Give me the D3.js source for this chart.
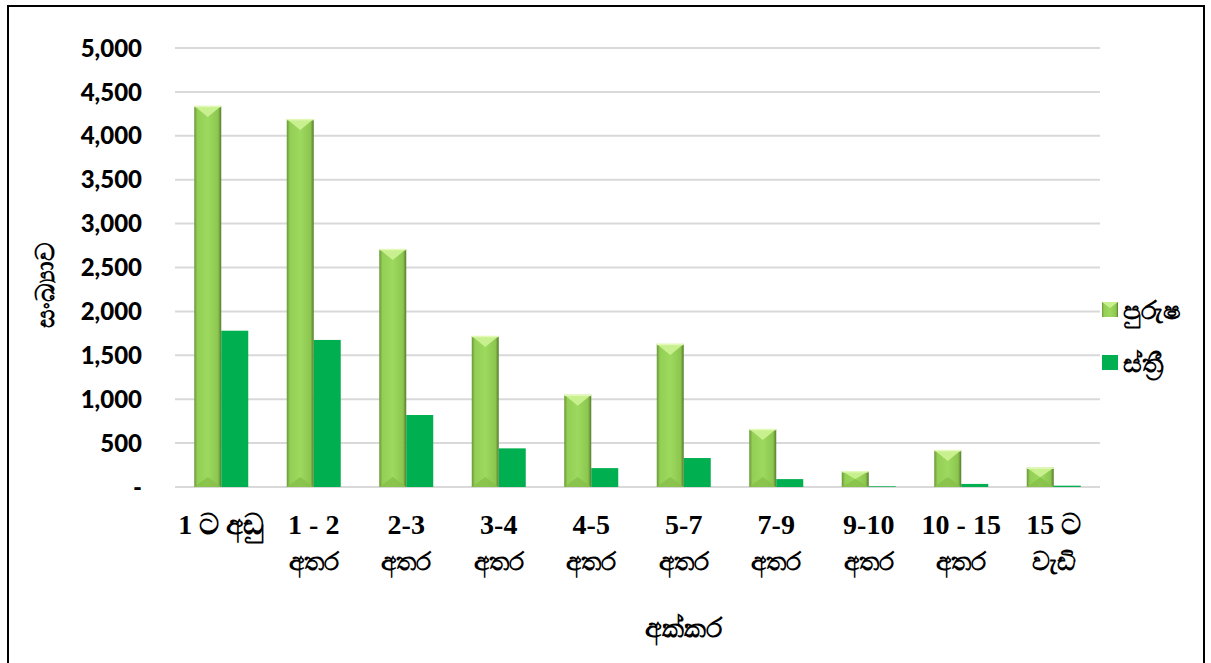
<!DOCTYPE html>
<html>
<head>
<meta charset="utf-8">
<script src="https://cdn.jsdelivr.net/npm/d3@7"></script>
<style>
  body { margin: 0; background: #fff; }
  svg { display: block; }
</style>
</head>
<body>
<script>
// land size categories (two lines each)
var categories = [
  ["1 ට අඩු", ""],
  ["1 - 2", "අතර"],
  ["2-3", "අතර"],
  ["3-4", "අතර"],
  ["4-5", "අතර"],
  ["5-7", "අතර"],
  ["7-9", "අතර"],
  ["9-10", "අතර"],
  ["10 - 15", "අතර"],
  ["15 ට", "වැඩි"]
];
var male = [4340, 4190, 2710, 1720, 1050, 1630, 660, 180, 420, 220];
var female = [1780, 1675, 820, 440, 215, 330, 90, 8, 35, 15];
var yTicks = [0, 500, 1000, 1500, 2000, 2500, 3000, 3500, 4000, 4500, 5000];
var seriesNames = ["පුරුෂ", "ස්ත්‍රී"];

var W = 1211, H = 663;
var svg = d3.select("body").append("svg").attr("width", W).attr("height", H);

// chart frame
svg.append("rect").attr("x", 8).attr("y", 6).attr("width", 1196).attr("height", 670)
  .attr("fill", "none").attr("stroke", "#000").attr("stroke-width", 2);

var plotL = 175, plotR = 1100, plotT = 48, plotB = 487;

var x = d3.scaleBand().domain(d3.range(categories.length)).range([plotL, plotR]);
var y = d3.scaleLinear().domain([0, 5000]).range([plotB, plotT]);

// gradients for the beveled male bars
var defs = svg.append("defs");
var g1 = defs.append("linearGradient").attr("id", "mbody");
g1.append("stop").attr("offset", "0%").attr("stop-color", "#6a9638");
g1.append("stop").attr("offset", "12%").attr("stop-color", "#93cf55");
g1.append("stop").attr("offset", "50%").attr("stop-color", "#9dd95f");
g1.append("stop").attr("offset", "88%").attr("stop-color", "#8cc64f");
g1.append("stop").attr("offset", "100%").attr("stop-color", "#557c2c");

// gridlines
svg.append("g").selectAll("line").data(yTicks).enter().append("line")
  .attr("x1", plotL).attr("x2", plotR)
  .attr("y1", function (d) { return y(d); })
  .attr("y2", function (d) { return y(d); })
  .attr("stroke", "#d9d9d9").attr("stroke-width", 2);

// y axis labels
svg.append("g").selectAll("text").data(yTicks).enter().append("text")
  .attr("x", 142).attr("y", function (d) { return y(d); })
  .attr("dy", "0.36em").attr("text-anchor", "end")
  .attr("font-family", "Lato, 'Open Sans', sans-serif").attr("font-weight", "900")
  .attr("font-size", 24).attr("fill", "#000")
  .text(function (d) { return d === 0 ? "-" : d3.format(",")(d); });

var bw = 27;

// male bars
var mg = svg.append("g").selectAll("g").data(male).enter().append("g");
mg.append("rect")
  .attr("x", function (d, i) { return x(i) + x.bandwidth() / 2 - bw; })
  .attr("y", function (d) { return y(d); })
  .attr("width", bw)
  .attr("height", function (d) { return plotB - y(d); })
  .attr("fill", "url(#mbody)");
// top bevel: light triangle
mg.append("path")
  .attr("d", function (d, i) {
    var x0 = x(i) + x.bandwidth() / 2 - bw, yt = y(d);
    var h = Math.min(11, (plotB - yt) / 2);
    return "M" + x0 + "," + yt + "L" + (x0 + bw) + "," + yt + "L" + (x0 + bw / 2) + "," + (yt + h) + "Z";
  })
  .attr("fill", "#c8f08e");
mg.append("line")
  .attr("x1", function (d, i) { return x(i) + x.bandwidth() / 2 - bw; })
  .attr("x2", function (d, i) { return x(i) + x.bandwidth() / 2; })
  .attr("y1", function (d) { return y(d) + 0.5; })
  .attr("y2", function (d) { return y(d) + 0.5; })
  .attr("stroke", "#e2f9b8").attr("stroke-width", 1.5);
// bottom bevel: darker triangle
mg.append("path")
  .attr("d", function (d, i) {
    var x0 = x(i) + x.bandwidth() / 2 - bw, yt = y(d);
    var h = Math.min(10, (plotB - yt) / 2);
    return "M" + x0 + "," + plotB + "L" + (x0 + bw) + "," + plotB + "L" + (x0 + bw / 2) + "," + (plotB - h) + "Z";
  })
  .attr("fill", "#86bf4a").attr("opacity", 0.8);

// female bars
svg.append("g").selectAll("rect").data(female).enter().append("rect")
  .attr("x", function (d, i) { return x(i) + x.bandwidth() / 2; })
  .attr("y", function (d) { return y(d); })
  .attr("width", bw)
  .attr("height", function (d) { return plotB - y(d); })
  .attr("fill", "#00b050");

// x axis labels
var xl = svg.append("g").selectAll("text").data(categories).enter().append("text")
  .attr("text-anchor", "middle")
  .attr("font-family", "'Liberation Serif', 'Times New Roman', serif")
  .attr("font-weight", "bold").attr("fill", "#000");
xl.append("tspan")
  .attr("x", function (d, i) { return x(i) + x.bandwidth() / 2; })
  .attr("y", 534).attr("font-size", 28)
  .text(function (d) { return d[0]; });
xl.append("tspan")
  .attr("x", function (d, i) { return x(i) + x.bandwidth() / 2; })
  .attr("y", 570).attr("font-size", 25)
  .text(function (d) { return d[1]; });

// axis titles
svg.append("text").attr("x", 683).attr("y", 637).attr("text-anchor", "middle")
  .attr("font-family", "'Liberation Serif', serif").attr("font-weight", "bold")
  .attr("font-size", 27).text("අක්කර");
svg.append("text").attr("transform", "translate(54,285) rotate(-90)")
  .attr("text-anchor", "middle")
  .attr("font-family", "'Liberation Serif', serif").attr("font-weight", "bold")
  .attr("font-size", 26).text("සංඛ්‍යාව");

// legend
var lg = svg.append("g").selectAll("g").data(seriesNames).enter().append("g")
  .attr("transform", function (d, i) { return "translate(1102," + (302 + i * 53) + ")"; });
lg.append("rect").attr("width", 16).attr("height", 15)
  .attr("fill", function (d, i) { return i === 0 ? "url(#mbody)" : "#00b050"; });
lg.filter(function (d, i) { return i === 0; }).append("path")
  .attr("d", "M0,0L16,0L8,6Z").attr("fill", "#c8f08e");
lg.append("text").attr("x", 21).attr("y", 8).attr("dy", "0.35em")
  .attr("font-family", "'Liberation Serif', serif").attr("font-weight", "bold")
  .attr("font-size", 26).text(function (d) { return d; });
</script>
</body>
</html>
